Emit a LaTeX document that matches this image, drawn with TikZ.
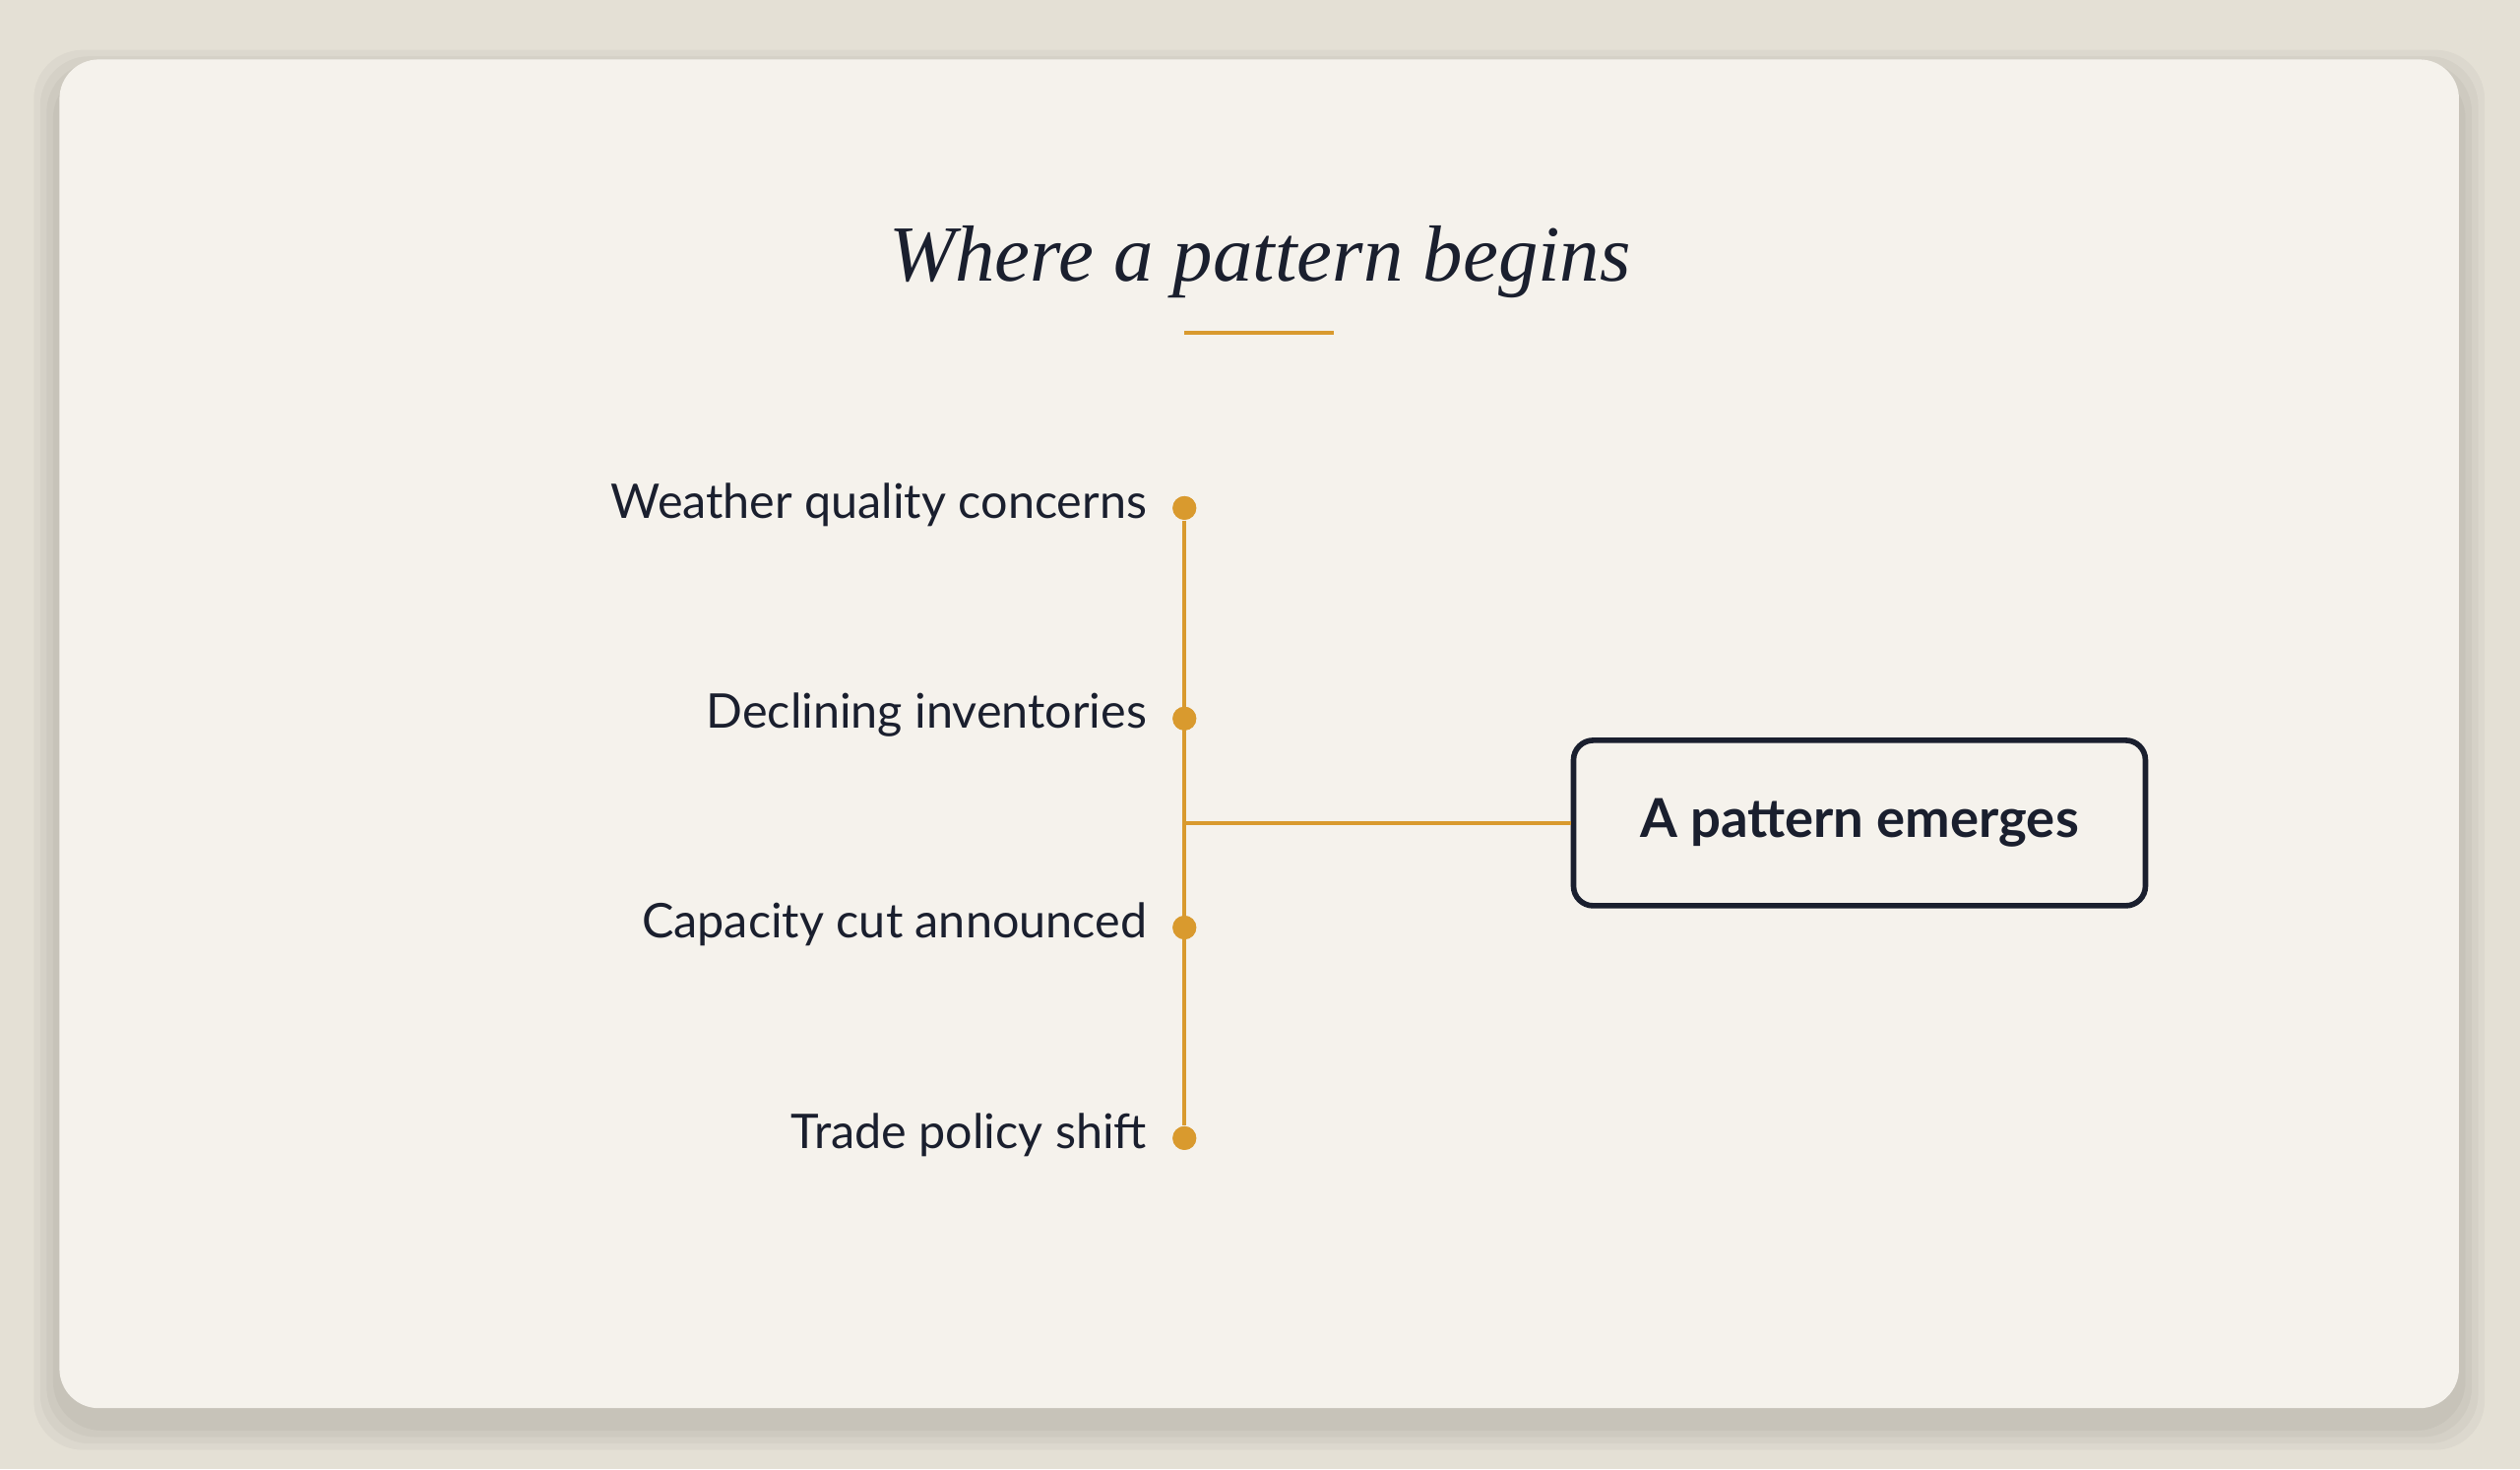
\documentclass[tikz,border=0pt]{standalone}
\usepackage{fontspec}
\setmainfont{Liberation Serif}
\setsansfont{Lato}
\usetikzlibrary{positioning,shadows,calc}
\definecolor{pagebg}{HTML}{E4E0D5}
\definecolor{cardbg}{HTML}{F5F2EC}
\definecolor{accent}{HTML}{D99A2E}
\definecolor{ink}{HTML}{1A1F2E}
\begin{document}
\begin{tikzpicture}[
    x=0.016327cm, y=-0.016327cm,
    card/.style={fill=cardbg, draw=none, rounded corners=0.4cm},
    event/.style={anchor=east, font=\sffamily\fontsize{13.8}{16}\selectfont, text=ink, inner sep=0pt},
    dot/.style={circle, fill=accent, inner sep=0pt, minimum size=0.24cm},
    link/.style={draw=accent, line width=1.1pt},
    result/.style={rectangle, draw=ink, line width=1.6pt, rounded corners=0.2cm, fill=cardbg,
        minimum width=5.81cm, minimum height=1.68cm, font=\sffamily\bfseries\fontsize{15.5}{18}\selectfont, text=ink}
]
    % Fond et carte
    \fill[pagebg] (0,0) rectangle (1568,914);
    \useasboundingbox (0,0) rectangle (1568,914);
    \foreach \s in {16,12,8,4}
        \fill[black, opacity=0.03, rounded corners=0.5cm] (37-\s,37+10-\s) rectangle (1530+\s,876+10+\s);
    \fill[card] (37,37) rectangle (1530,876);

    % Titre
    \node[font=\itshape\fontsize{23}{27}\selectfont, text=ink] (title) at (784,163) {Where a pattern begins};
    \draw[accent, line width=1.3pt] (737,207) -- (830,207);

    % Evenements
    \foreach \name/\y/\txt in {e1/316/Weather quality concerns, e2/447/Declining inventories,
                               e3/577/Capacity cut announced, e4/708/Trade policy shift} {
        \node[dot] (\name) at (737,\y) {};
        \node[event] at (714,\y-2) {\txt};
    }
    \coordinate (join) at (737,512);

    % Resultat
    \node[result] (emerge) at (1157,512) {A pattern emerges};

    % Liaisons
    \draw[link] (e1) -- (e4);
    \draw[link] (join) -- (emerge.west);
    \foreach \name in {e1,e2,e3,e4} \node[dot] at (\name) {};
\end{tikzpicture}
\end{document}
